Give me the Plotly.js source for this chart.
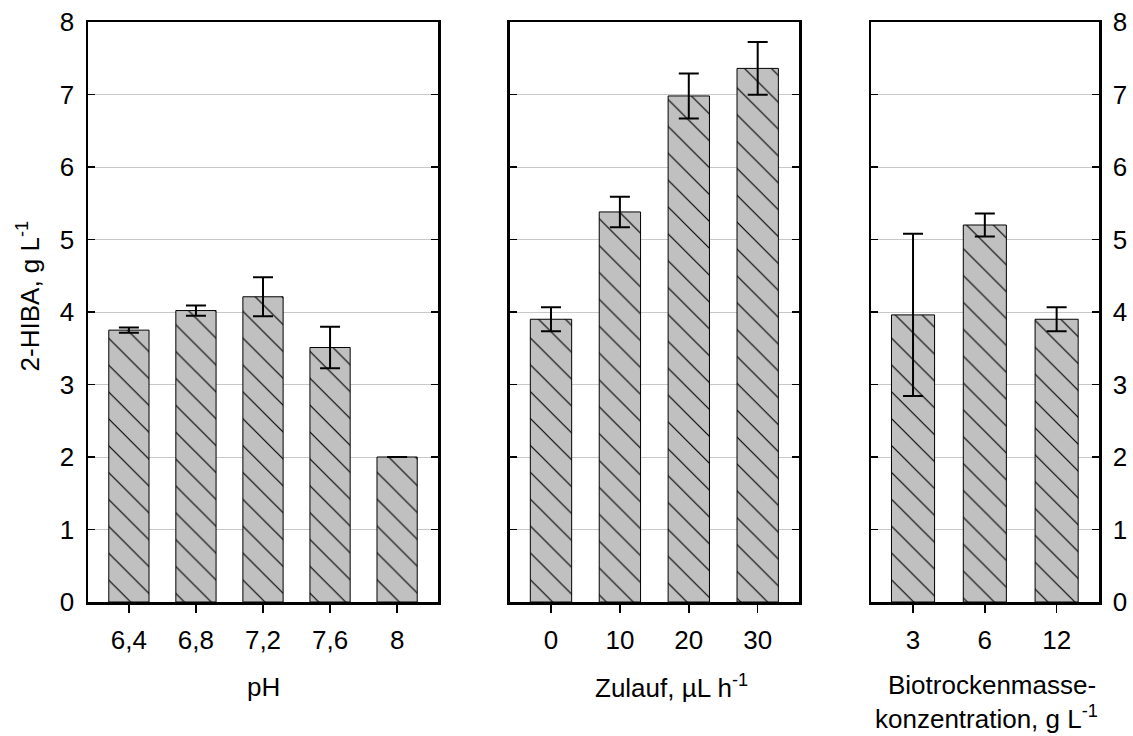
<!DOCTYPE html>
<html>
<head>
<meta charset="utf-8">
<script src="https://cdn.plot.ly/plotly-3.0.1.min.js"></script>
<style>
  html, body { margin: 0; padding: 0; background: #fff; }
  #chart { width: 1133px; height: 736px; }
</style>
</head>
<body>
<div id="chart"></div>
<script>
// ---- data ----
const phLabels = ["6,4", "6,8", "7,2", "7,6", "8"];
const phValues = [3.75, 4.02, 4.21, 3.51, 2.0];
const phErrors = [0.035, 0.07, 0.27, 0.285, null];

const feedLabels = ["0", "10", "20", "30"];
const feedValues = [3.90, 5.38, 6.98, 7.36];
const feedErrors = [0.165, 0.21, 0.31, 0.365];

const bioLabels = ["3", "6", "12"];
const bioValues = [3.96, 5.20, 3.90];
const bioErrors = [1.12, 0.16, 0.165];

const yTicks = [0, 1, 2, 3, 4, 5, 6, 7, 8];

// ---- styles ----
const FONT = "Liberation Sans, Arial, sans-serif";
const FS = 26;

function barTrace(x, y, err, xa, ya) {
  return {
    type: "bar", x: x, y: y, xaxis: xa, yaxis: ya, width: 0.6,
    marker: {
      color: "#c0c0c0",
      line: { color: "#000", width: 1 },
      pattern: { shape: "\\", size: 19, solidity: 0.06, fgcolor: "#000", bgcolor: "#c0c0c0", fillmode: "replace" }
    },
    error_y: { type: "data", array: err, visible: true, color: "#000", thickness: 2, width: 10 },
    showlegend: false, hoverinfo: "skip"
  };
}

const data = [
  barTrace(phLabels, phValues, phErrors, "x", "y"),
  barTrace(feedLabels, feedValues, feedErrors, "x2", "y2"),
  barTrace(bioLabels, bioValues, bioErrors, "x3", "y3")
];

function xAxis(domain, range, anchor) {
  return {
    domain: domain, range: range, anchor: anchor, type: "category",
    showline: true, linecolor: "#000", linewidth: 2.5, mirror: true,
    ticks: "outside", ticklen: 8, tickwidth: 1.5, tickcolor: "#000",
    ticklabelstandoff: 5,
    tickfont: { family: FONT, size: FS, color: "#000" },
    showgrid: false, zeroline: false, fixedrange: true
  };
}
function yAxis(anchor, showLabels, side) {
  return {
    anchor: anchor, range: [0, 8], side: side,
    tickmode: "array", tickvals: yTicks, ticktext: yTicks.map(String),
    showline: true, linecolor: "#000", linewidth: 2.5, mirror: "ticks",
    ticks: "inside", ticklen: 7, tickwidth: 1.5, tickcolor: "#000",
    showticklabels: showLabels, ticklabelstandoff: 6,
    tickfont: { family: FONT, size: FS, color: "#000" },
    showgrid: true, gridcolor: "#c8c8c8", gridwidth: 1,
    zeroline: false, fixedrange: true
  };
}

const layout = {
  width: 1133, height: 736,
  margin: { l: 88, r: 34, t: 22, b: 134 },
  paper_bgcolor: "#fff", plot_bgcolor: "#fff",
  font: { family: FONT, size: FS, color: "#000" },
  bargap: 0.4,
  xaxis: xAxis([0, 0.3462], [-0.61, 4.61], "y"),
  xaxis2: xAxis([0.4174, 0.7033], [-0.595, 3.6], "y2"),
  xaxis3: xAxis([0.7745, 1], [-0.585, 2.59], "y3"),
  yaxis: yAxis("x", true, "left"),
  yaxis2: yAxis("x2", false, "left"),
  yaxis3: yAxis("x3", true, "right"),
  annotations: [
    { text: "2-HIBA, g L<sup>-1</sup>", xref: "paper", yref: "paper",
      x: -0.0593, y: 0.527, xanchor: "center", yanchor: "middle", textangle: -90,
      showarrow: false, font: { family: FONT, size: FS } },
    { text: "pH", xref: "paper", yref: "paper",
      x: 0.1731, y: -0.146, xanchor: "center", yanchor: "middle",
      showarrow: false, font: { family: FONT, size: FS } },
    { text: "Zulauf, µL h<sup>-1</sup>", xref: "paper", yref: "paper",
      x: 0.5776, y: -0.146, xanchor: "center", yanchor: "middle",
      showarrow: false, font: { family: FONT, size: FS } },
    { text: "Biotrockenmasse-", xref: "paper", yref: "paper",
      x: 0.8937, y: -0.143, xanchor: "center", yanchor: "middle",
      showarrow: false, font: { family: FONT, size: FS } },
    { text: "konzentration, g L<sup>-1</sup>", xref: "paper", yref: "paper",
      x: 0.889, y: -0.199, xanchor: "center", yanchor: "middle",
      showarrow: false, font: { family: FONT, size: FS } }
  ]
};

Plotly.newPlot("chart", data, layout, { staticPlot: true, displayModeBar: false });
</script>
</body>
</html>
